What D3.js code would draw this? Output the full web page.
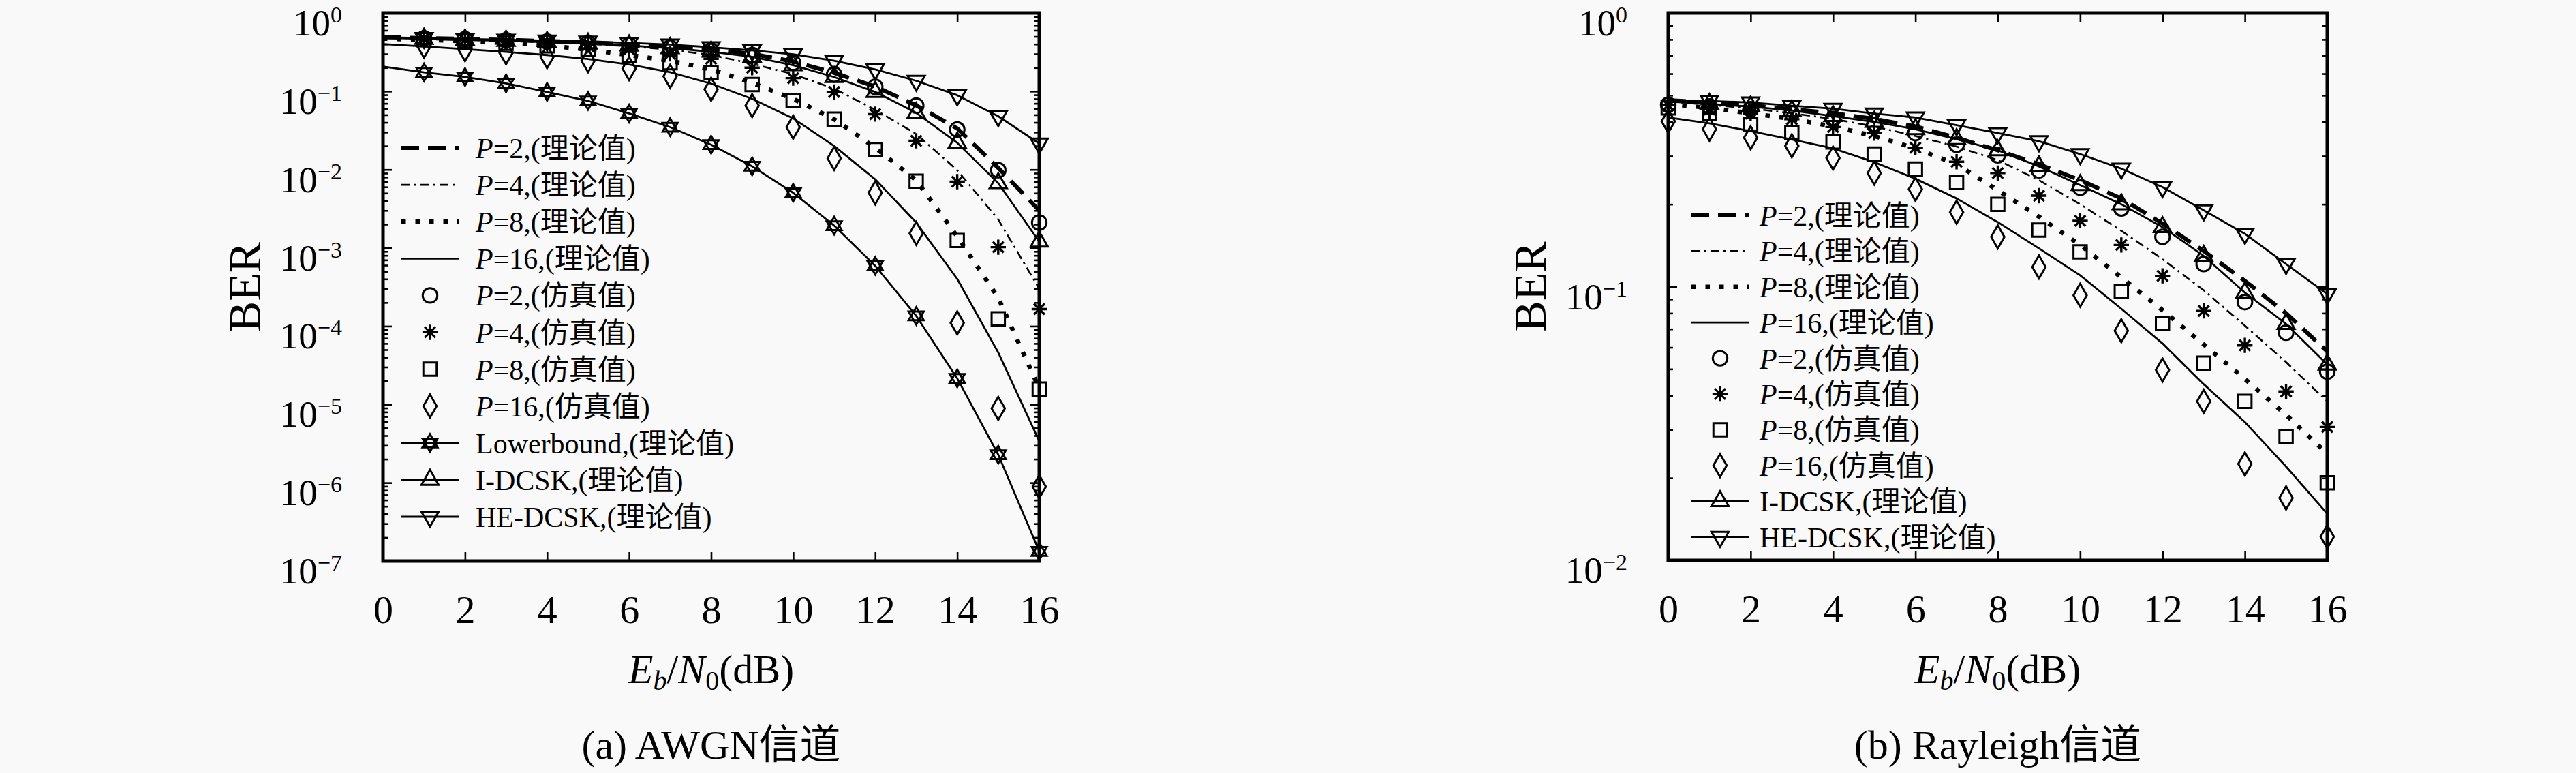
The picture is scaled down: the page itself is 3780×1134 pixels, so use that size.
<!DOCTYPE html>
<html><head><meta charset="utf-8">
<script src="https://cdn.jsdelivr.net/npm/d3@7"></script>
<style>
body{margin:0;background:#f9f9f9}
svg{display:block}
text{font-family:"Liberation Serif","Noto Sans CJK SC",serif;fill:#000}
</style>
</head><body>
<svg id="chart" width="3780" height="1134"></svg>
<script>
// ---------- data ----------
const snrDb = [0,1,2,3,4,5,6,7,8,9,10,11,12,13,14,15,16];
const xTickValues = [0,2,4,6,8,10,12,14,16];

// (a) AWGN channel
const awgnP2Theory  = [0.49,0.478,0.466,0.453,0.438,0.421,0.4,0.375,0.345,0.3,0.24,0.172,0.115,0.066,0.0335,0.0105,0.003];
const awgnP4Theory  = [0.485,0.472,0.458,0.443,0.425,0.403,0.375,0.34,0.29,0.225,0.165,0.108,0.058,0.0285,0.0098,0.0023,0.0003];
const awgnP8Theory  = [0.47,0.455,0.437,0.415,0.385,0.34,0.29,0.245,0.19,0.128,0.08,0.044,0.019,0.0073,0.0014,0.00023,0.000016];
const awgnP16Theory = [0.4,0.374,0.345,0.318,0.29,0.258,0.22,0.175,0.125,0.08,0.045,0.02,0.0075,0.0021,0.0004,0.000046,0.0000034];
const awgnP2Sim  = [null,0.475,0.462,0.448,0.432,0.413,0.39,0.362,0.33,0.29,0.232,0.164,0.114,0.0656,0.0325,0.0098,0.0021];
const awgnP4Sim  = [null,0.47,0.455,0.438,0.418,0.392,0.345,0.3,0.26,0.2,0.147,0.098,0.051,0.0233,0.007,0.00102,0.000165];
const awgnP8Sim  = [null,0.455,0.435,0.41,0.38,0.34,0.29,0.232,0.174,0.122,0.076,0.044,0.018,0.0071,0.00124,0.000124,0.0000157];
const awgnP16Sim = [null,0.376,0.34,0.31,0.276,0.246,0.195,0.155,0.106,0.0656,0.0348,0.0139,0.00505,0.00153,0.00011,0.0000089,0.00000089];
const awgnLowerbound = [0.207,0.174,0.152,0.126,0.098,0.0753,0.0521,0.0348,0.0208,0.011,0.00505,0.00192,0.00059,0.000135,0.0000215,0.00000228,0.000000133];
const awgnIDCSK  = [0.48,0.468,0.455,0.44,0.424,0.405,0.383,0.355,0.32,0.275,0.215,0.152,0.098,0.053,0.022,0.0067,0.0012];
const awgnHEDCSK = [0.49,0.478,0.466,0.455,0.443,0.43,0.415,0.395,0.365,0.333,0.296,0.245,0.19,0.136,0.089,0.048,0.0215];

// (b) Rayleigh channel
const rayP2Theory  = [0.48,0.47,0.46,0.445,0.43,0.41,0.385,0.35,0.315,0.28,0.245,0.21,0.17,0.135,0.105,0.08,0.058];
const rayP4Theory  = [0.475,0.462,0.448,0.43,0.41,0.385,0.355,0.325,0.29,0.245,0.2,0.16,0.126,0.097,0.072,0.053,0.038];
const rayP8Theory  = [0.465,0.45,0.43,0.41,0.385,0.355,0.32,0.28,0.225,0.18,0.142,0.108,0.082,0.0615,0.046,0.034,0.0245];
const rayP16Theory = [0.415,0.395,0.37,0.345,0.32,0.285,0.248,0.21,0.172,0.138,0.11,0.083,0.062,0.044,0.032,0.022,0.0148];
const rayP2Sim  = [0.462,0.455,0.445,0.43,0.41,0.39,0.364,0.33,0.302,0.266,0.23,0.193,0.152,0.121,0.0878,0.0679,0.0489];
const rayP4Sim  = [0.46,0.444,0.429,0.409,0.383,0.364,0.322,0.286,0.26,0.215,0.174,0.142,0.1095,0.0815,0.061,0.0414,0.0307];
const rayP8Sim  = [0.45,0.429,0.391,0.366,0.338,0.305,0.269,0.24,0.2,0.161,0.134,0.0962,0.0735,0.0525,0.0381,0.0283,0.0192];
const rayP16Sim = [0.402,0.376,0.35,0.327,0.295,0.26,0.227,0.187,0.152,0.118,0.093,0.069,0.0496,0.0381,0.0225,0.0169,0.0122];
const rayIDCSK  = [0.475,0.465,0.455,0.44,0.42,0.4,0.376,0.346,0.315,0.275,0.235,0.2,0.165,0.1295,0.0951,0.0731,0.0519];
const rayHEDCSK = [0.48,0.477,0.471,0.458,0.447,0.429,0.415,0.389,0.364,0.34,0.305,0.27,0.231,0.19,0.156,0.121,0.094];

// labels
const legendAwgn = ["P=2,(理论值)","P=4,(理论值)","P=8,(理论值)","P=16,(理论值)","P=2,(仿真值)","P=4,(仿真值)","P=8,(仿真值)","P=16,(仿真值)","Lowerbound,(理论值)","I-DCSK,(理论值)","HE-DCSK,(理论值)"];
const legendRay  = ["P=2,(理论值)","P=4,(理论值)","P=8,(理论值)","P=16,(理论值)","P=2,(仿真值)","P=4,(仿真值)","P=8,(仿真值)","P=16,(仿真值)","I-DCSK,(理论值)","HE-DCSK,(理论值)"];
const captions = ["(a) AWGN信道","(b) Rayleigh信道"];

// ---------- styles ----------
const lineStyles = {
  dash:    {w:6,   dash:"26,13"},
  dashdot: {w:2.6, dash:"13,6,3,6"},
  dot:     {w:6.5, dash:"6.5,14"},
  solid:   {w:2.8, dash:null}
};

const asterisk = {draw(ctx, size){const r=Math.sqrt(size)/2; for(let k=0;k<4;k++){const a=k*Math.PI/4; ctx.moveTo(r*Math.cos(a), r*Math.sin(a)); ctx.lineTo(-r*Math.cos(a), -r*Math.sin(a));}}};
const hexagram = {draw(ctx, size){const r=Math.sqrt(size)/2; for(const off of [-Math.PI/2, Math.PI/2]){for(let k=0;k<3;k++){const a=off+k*2*Math.PI/3; const px=r*Math.cos(a), py=r*Math.sin(a); if(k===0) ctx.moveTo(px,py); else ctx.lineTo(px,py);} ctx.closePath();}}};
const triDown = {draw(ctx,size){const s=Math.sqrt(size)*0.76; const h=s*0.866; ctx.moveTo(-s/2,-h/3); ctx.lineTo(s/2,-h/3); ctx.lineTo(0,2*h/3); ctx.closePath();}};
const triUp = {draw(ctx,size){const s=Math.sqrt(size)*0.76; const h=s*0.866; ctx.moveTo(-s/2,h/3); ctx.lineTo(s/2,h/3); ctx.lineTo(0,-2*h/3); ctx.closePath();}};
const markerTypes = {
  circle:  {type:d3.symbolCircle,  size:360},
  star:    {type:asterisk,         size:500},
  square:  {type:d3.symbolSquare,  size:380},
  diamond: {type:d3.symbolDiamond, size:330},
  hexagram:{type:hexagram,         size:650},
  triUp:   {type:triUp,            size:1100},
  triDown: {type:triDown,          size:1100}
};

const svg = d3.select("#chart");

function addLabel(sel, label){
  if(label.startsWith("P=")){
    sel.append("tspan").attr("font-style","italic").text("P");
    sel.append("tspan").text(label.slice(1));
  } else sel.text(label);
}

function drawPanel(cfg){
  const x = d3.scaleLinear().domain([0,16]).range([cfg.left, cfg.right]);
  const y = d3.scaleLog().domain([cfg.ymin, 1]).range([cfg.bottom, cfg.top]);
  const g = svg.append("g");
  const allY = y.ticks();
  const majorY = allY.filter(v => Math.abs(Math.log10(v) - Math.round(Math.log10(v))) < 1e-9);
  const minorY = allY.filter(v => !majorY.includes(v));

  const styleAxis = a => { a.select(".domain").remove(); a.selectAll("line").attr("stroke","#000").attr("stroke-width",2.6); };

  // x axes
  g.append("g").attr("transform",`translate(0,${cfg.bottom})`)
    .call(d3.axisBottom(x).tickValues(xTickValues).tickSize(-13).tickPadding(50).tickFormat(d3.format("d")))
    .call(styleAxis)
    .selectAll("text").attr("font-size",58).attr("font-family",'"Liberation Serif",serif');
  g.append("g").attr("transform",`translate(0,${cfg.top})`)
    .call(d3.axisTop(x).tickValues(xTickValues).tickSize(-13).tickFormat(""))
    .call(styleAxis);
  // y axes majors
  g.append("g").attr("transform",`translate(${cfg.left},0)`)
    .call(d3.axisLeft(y).tickValues(majorY).tickSize(-13).tickFormat(""))
    .call(styleAxis);
  g.append("g").attr("transform",`translate(${cfg.right},0)`)
    .call(d3.axisRight(y).tickValues(majorY).tickSize(-13).tickFormat(""))
    .call(styleAxis);
  // minors
  g.append("g").attr("transform",`translate(${cfg.left},0)`)
    .call(d3.axisLeft(y).tickValues(minorY).tickSize(-7).tickFormat(""))
    .call(styleAxis);
  g.append("g").attr("transform",`translate(${cfg.right},0)`)
    .call(d3.axisRight(y).tickValues(minorY).tickSize(-7).tickFormat(""))
    .call(styleAxis);
  // y tick labels 10^k
  majorY.forEach(v => {
    const e = Math.round(Math.log10(v));
    const t = g.append("text").attr("x", cfg.left - 60).attr("y", y(v) + 33)
      .attr("text-anchor","end").attr("font-size",55).attr("font-family",'"Liberation Serif",serif');
    t.append("tspan").text("10");
    t.append("tspan").attr("font-size",34).attr("dy",-19).text(e===0 ? "0" : "\u2212" + (-e));
  });

  // series
  const lineGen = d3.line().defined(d => d[1] != null).x(d => x(d[0])).y(d => y(d[1]));
  cfg.series.forEach(s => {
    const pts = snrDb.map((v,i) => [v, s.values[i]]);
    if(s.line){
      const st = lineStyles[s.line];
      g.append("path").attr("d", lineGen(pts)).attr("fill","none").attr("stroke","#000")
        .attr("stroke-width", st.w).attr("stroke-dasharray", st.dash).attr("stroke-linejoin","round");
    }
    if(s.marker){
      const m = markerTypes[s.marker];
      const sym = d3.symbol().type(m.type).size(m.size);
      g.selectAll(null).data(pts.filter(d => d[1] != null && d[0] >= s.markFrom)).join("path")
        .attr("transform", d => `translate(${x(d[0])},${y(d[1])})`)
        .attr("d", sym()).attr("fill","none").attr("stroke","#000").attr("stroke-width", s.marker==="star"?3.4:3);
    }
  });

  // frame
  g.append("rect").attr("x",cfg.left).attr("y",cfg.top).attr("width",cfg.right-cfg.left).attr("height",cfg.bottom-cfg.top)
    .attr("fill","none").attr("stroke","#000").attr("stroke-width",5);

  // legend
  const lg = cfg.legend;
  cfg.series.forEach((s,i) => {
    const yy = lg.y0 + i*lg.step;
    if(s.line){
      const st = lineStyles[s.line];
      g.append("line").attr("x1",lg.x1).attr("x2",lg.x2).attr("y1",yy).attr("y2",yy)
        .attr("stroke","#000").attr("stroke-width",st.w).attr("stroke-dasharray",st.dash);
    }
    if(s.marker){
      const m = markerTypes[s.marker];
      g.append("path").attr("transform",`translate(${(lg.x1+lg.x2)/2},${yy})`)
        .attr("d", d3.symbol().type(m.type).size(m.size)()).attr("fill","none").attr("stroke","#000").attr("stroke-width", 3);
    }
    const t = g.append("text").attr("x",lg.tx).attr("y",yy+15).attr("font-size",lg.fs);
    addLabel(t, s.label);
  });

  // axis titles
  const cx = (cfg.left+cfg.right)/2;
  const xt = g.append("text").attr("x",cx).attr("y",1002).attr("text-anchor","middle").attr("font-size",60);
  xt.append("tspan").attr("font-style","italic").text("E");
  xt.append("tspan").attr("font-style","italic").attr("font-size",40).attr("dy",10).text("b");
  xt.append("tspan").attr("dy",-10).text("/");
  xt.append("tspan").attr("font-style","italic").text("N");
  xt.append("tspan").attr("font-size",40).attr("dy",10).text("0");
  xt.append("tspan").attr("dy",-10).text("(dB)");

  g.append("text").attr("transform",`translate(${cfg.left-180},${(cfg.top+cfg.bottom)/2}) rotate(-90)`)
    .attr("text-anchor","middle").attr("font-size",68).text("BER");

  g.append("text").attr("x",cx).attr("y",1113).attr("text-anchor","middle").attr("font-size",60).text(cfg.caption);
}

drawPanel({
  left:562, right:1525, top:19, bottom:823, ymin:1e-7, caption:captions[0],
  legend:{x1:589, x2:673, tx:698, y0:217, step:54.1, fs:42},
  series:[
    {label:legendAwgn[0], values:awgnP2Theory,  line:"dash"},
    {label:legendAwgn[1], values:awgnP4Theory,  line:"dashdot"},
    {label:legendAwgn[2], values:awgnP8Theory,  line:"dot"},
    {label:legendAwgn[3], values:awgnP16Theory, line:"solid"},
    {label:legendAwgn[4], values:awgnP2Sim,  marker:"circle",  markFrom:1},
    {label:legendAwgn[5], values:awgnP4Sim,  marker:"star",    markFrom:1},
    {label:legendAwgn[6], values:awgnP8Sim,  marker:"square",  markFrom:1},
    {label:legendAwgn[7], values:awgnP16Sim, marker:"diamond", markFrom:1},
    {label:legendAwgn[8], values:awgnLowerbound, line:"solid", marker:"hexagram", markFrom:1},
    {label:legendAwgn[9], values:awgnIDCSK,  line:"solid", marker:"triUp",   markFrom:1},
    {label:legendAwgn[10],values:awgnHEDCSK, line:"solid", marker:"triDown", markFrom:1}
  ]
});

drawPanel({
  left:2448, right:3415, top:19, bottom:822, ymin:1e-2, caption:captions[1],
  legend:{x1:2482, x2:2566, tx:2582, y0:316, step:52.4, fs:42},
  series:[
    {label:legendRay[0], values:rayP2Theory,  line:"dash"},
    {label:legendRay[1], values:rayP4Theory,  line:"dashdot"},
    {label:legendRay[2], values:rayP8Theory,  line:"dot"},
    {label:legendRay[3], values:rayP16Theory, line:"solid"},
    {label:legendRay[4], values:rayP2Sim,  marker:"circle",  markFrom:0},
    {label:legendRay[5], values:rayP4Sim,  marker:"star",    markFrom:0},
    {label:legendRay[6], values:rayP8Sim,  marker:"square",  markFrom:0},
    {label:legendRay[7], values:rayP16Sim, marker:"diamond", markFrom:0},
    {label:legendRay[8], values:rayIDCSK,  line:"solid", marker:"triUp",   markFrom:1},
    {label:legendRay[9], values:rayHEDCSK, line:"solid", marker:"triDown", markFrom:1}
  ]
});
</script>
</body></html>
